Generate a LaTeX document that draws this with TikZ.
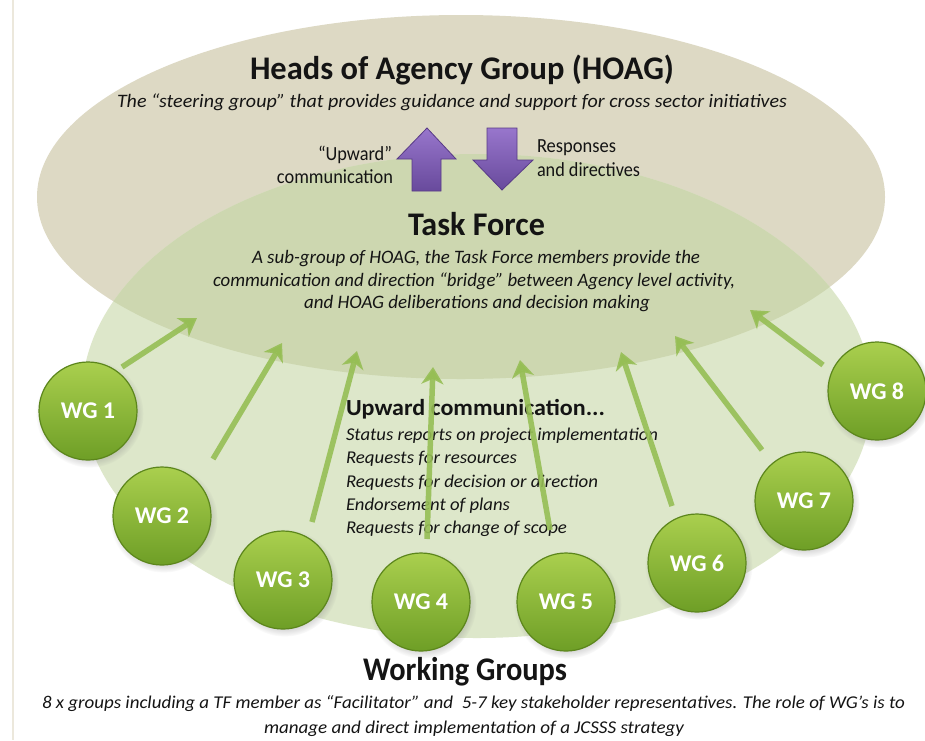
\documentclass[tikz,border=0pt]{standalone}
\usepackage{fontspec}
\setmainfont{Carlito}
\usetikzlibrary{arrows.meta,shadows}
\definecolor{beige}{RGB}{221,217,196}
\definecolor{lgreen}{RGB}{221,231,202}
\definecolor{ovgreen}{RGB}{205,215,176}
\definecolor{agreen}{RGB}{150,190,85}
\definecolor{wgtop}{RGB}{170,207,78}
\definecolor{wgbot}{RGB}{110,158,38}
\definecolor{wgedge}{RGB}{92,134,28}
\definecolor{purtop}{RGB}{152,118,204}
\definecolor{purbot}{RGB}{104,74,156}
\definecolor{puredge}{RGB}{88,58,134}
\definecolor{txt}{RGB}{20,20,20}
\definecolor{stripe}{RGB}{236,232,220}
\newcommand{\fw}[2]{\resizebox{#1pt}{\height}{#2}}
\tikzset{
  tx/.style={inner sep=0pt, outer sep=0pt, text=txt},
  wg/.style={circle, minimum size=98pt, inner sep=0pt, top color=wgtop, bottom color=wgbot,
    draw=wgedge, line width=1.2pt, text=white, font=\fontsize{24}{28}\selectfont\bfseries,
    circular drop shadow={shadow xshift=1.5pt, shadow yshift=-2.5pt, opacity=0.3}},
  uparr/.style={draw=agreen, line width=5.5pt, draw opacity=0.9,
    -{Stealth[length=17pt,width=22pt,inset=5pt]}},
  purarr/.style={top color=purtop, bottom color=purbot, draw=puredge, line width=0.8pt},
}
\begin{document}
\begin{tikzpicture}[x=1pt,y=-1pt]
\useasboundingbox (0,0) rectangle (925,740);
\fill[white] (0,0) rectangle (925,740);
\draw[stripe, line width=2pt] (13,0) -- (13,740);
% ellipses
\fill[beige] (461,197) ellipse [x radius=424pt, y radius=182pt];
\fill[lgreen] (477,396) ellipse [x radius=395pt, y radius=242pt];
\begin{scope}
  \clip (461,197) ellipse [x radius=424pt, y radius=182pt];
  \fill[ovgreen] (477,396) ellipse [x radius=395pt, y radius=242pt];
\end{scope}
% purple arrows
\shade[purarr] (427,128) -- (456,159) -- (441,159) -- (441,191) -- (412,191) -- (412,159) -- (397,159) -- cycle;
\shade[purarr] (487,128) -- (517,128) -- (517,160) -- (533,160) -- (502,190) -- (473,160) -- (487,160) -- cycle;
% texts
\node[tx, anchor=base west] (title) at (250,79) {\fontsize{33}{40}\selectfont\bfseries\fw{424}{Heads of Agency Group (HOAG)}};
\node[tx, anchor=base west] (sub) at (117,107) {\fontsize{19}{23}\selectfont\itshape\fw{670}{The “steering group” that provides guidance and support for cross sector initiatives}};
\node[tx, anchor=base east] (upw1) at (392,160) {\fontsize{20}{24}\selectfont\fw{74}{“Upward”}};
\node[tx, anchor=base east] (upw2) at (393,183) {\fontsize{20}{24}\selectfont\fw{116}{communication}};
\node[tx, anchor=base west] (resp1) at (537,152) {\fontsize{20}{24}\selectfont\fw{79}{Responses}};
\node[tx, anchor=base west] (resp2) at (537,176) {\fontsize{20}{24}\selectfont\fw{103}{and directives}};
\node[tx, anchor=base west] (tf) at (408,235) {\fontsize{33}{40}\selectfont\bfseries\fw{137}{Task Force}};
\node[tx, anchor=base west] (tf1) at (252,263) {\fontsize{19}{23}\selectfont\itshape\fw{448}{A sub-group of HOAG, the Task Force members provide the}};
\node[tx, anchor=base west] (tf2) at (213,286) {\fontsize{19}{23}\selectfont\itshape\fw{522}{communication and direction “bridge” between Agency level activity,}};
\node[tx, anchor=base west] (tf3) at (304,308) {\fontsize{19}{23}\selectfont\itshape\fw{346}{and HOAG deliberations and decision making}};
\node[tx, anchor=base west] (uc) at (346,415) {\fontsize{23}{28}\selectfont\bfseries\fw{259}{Upward communication...}};
\node[tx, anchor=base west] (l1) at (346,440) {\fontsize{18}{22}\selectfont\itshape\fw{312}{Status reports on project implementation}};
\node[tx, anchor=base west] (l2) at (346,463) {\fontsize{18}{22}\selectfont\itshape\fw{171}{Requests for resources}};
\node[tx, anchor=base west] (l3) at (346,487) {\fontsize{18}{22}\selectfont\itshape\fw{252}{Requests for decision or direction}};
\node[tx, anchor=base west] (l4) at (346,510) {\fontsize{18}{22}\selectfont\itshape\fw{164}{Endorsement of plans}};
\node[tx, anchor=base west] (l5) at (346,533) {\fontsize{18}{22}\selectfont\itshape\fw{221}{Requests for change of scope}};
\node[tx, anchor=base west] (wgt) at (363,680) {\fontsize{33}{40}\selectfont\bfseries\fw{204}{Working Groups}};
\node[tx, anchor=base west] (b1) at (42,708) {\fontsize{18}{22}\selectfont\itshape\fw{863}{8 x groups including a TF member as “Facilitator” and \ 5-7 key stakeholder representatives. The role of WG’s is to}};
\node[tx, anchor=base west] (b2) at (264,733) {\fontsize{18}{22}\selectfont\itshape\fw{420}{manage and direct implementation of a JCSSS strategy}};
% working group circles
\node[wg] (wg1) at (88,411) {WG 1};
\node[wg] (wg2) at (162,516) {WG 2};
\node[wg] (wg3) at (283,580) {WG 3};
\node[wg] (wg4) at (421,602) {WG 4};
\node[wg] (wg5) at (566,602) {WG 5};
\node[wg] (wg6) at (697,563) {WG 6};
\node[wg] (wg7) at (804,501) {WG 7};
\node[wg] (wg8) at (877,391) {WG 8};
% green arrows
\coordinate (s1) at (122,367); \coordinate (e1) at (197,318);
\coordinate (s2) at (213,459); \coordinate (e2) at (282,343);
\coordinate (s3) at (312,522); \coordinate (e3) at (357,351);
\coordinate (s4) at (427,539); \coordinate (e4) at (433,367);
\coordinate (s5) at (550,530); \coordinate (e5) at (520,360);
\coordinate (s6) at (672,506); \coordinate (e6) at (621,352);
\coordinate (s7) at (762,450); \coordinate (e7) at (675,336);
\coordinate (s8) at (823,365); \coordinate (e8) at (750,310);
\foreach \i in {1,...,8} { \draw[uparr] (s\i) -- (e\i); }
\end{tikzpicture}
\end{document}
